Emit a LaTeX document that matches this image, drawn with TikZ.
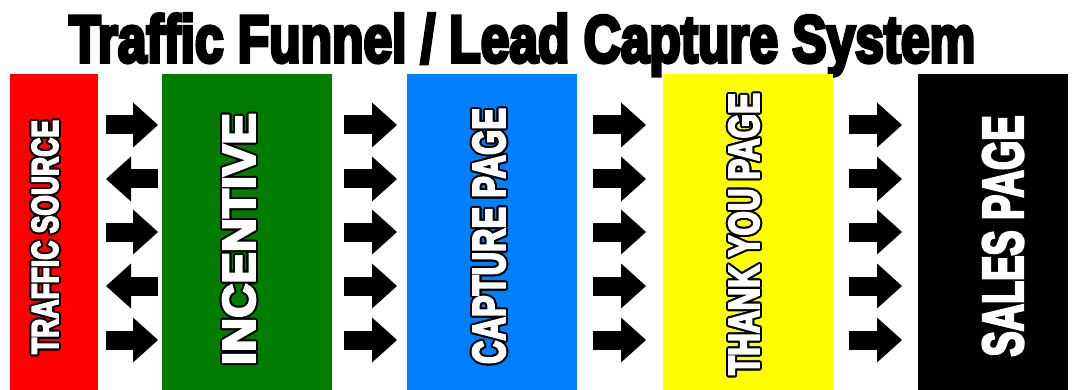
\documentclass[tikz,border=0pt]{standalone}
\usepackage{fontspec}
\usepackage[copies]{contour}
\usetikzlibrary{arrows.meta}
\newfontfamily\heavy{Liberation Sans}[BoldFeatures={FakeBold=5}]
\newfontfamily\heavytitle{Liberation Sans}[BoldFeatures={FakeBold=6}]
\definecolor{cred}{RGB}{255,0,0}
\definecolor{cgreen}{RGB}{0,125,0}
\definecolor{cblue}{RGB}{0,128,255}
\definecolor{cyellow}{RGB}{255,255,0}
\contourlength{2pt}
\newcommand{\lbltext}[3]{\contour{black}{\resizebox{#1}{#2}{\heavy\bfseries #3}}}
\tikzset{
  col/.style={draw=none, inner sep=0pt, minimum width=#1, minimum height=316pt, anchor=north west},
  lbl/.style={inner sep=0pt, text=white, rotate=90},
  bigarrow/.style={line width=19pt, line cap=butt, -{Triangle[width=45pt,length=25pt,line width=0pt]}}
}
\begin{document}
\begin{tikzpicture}[x=1pt,y=-1pt]
\useasboundingbox[fill=white] (0,0) rectangle (1078,390);
% title
\node[anchor=base west, inner sep=0pt] (title) at (69,62)
  {\resizebox{906pt}{48pt}{\heavytitle\bfseries Traffic Funnel / Lead Capture System}};
% columns
\node[col=88pt, fill=cred]    (src)  at (10,74)  {};
\node[col=170pt, fill=cgreen] (inc)  at (162,74) {};
\node[col=170pt, fill=cblue]  (cap)  at (407,74) {};
\node[col=170pt, fill=cyellow](thx)  at (663,74) {};
\node[col=150pt, fill=black]  (sal)  at (918,74) {};
% labels
\node[lbl] (srcl) at (46,237)  {\lbltext{234pt}{26pt}{TRAFFIC SOURCE}};
\node[lbl] (incl) at (240,239) {\lbltext{252pt}{32pt}{INCENTIVE}};
\node[lbl] (capl) at (490,236) {\lbltext{256pt}{32pt}{CAPTURE PAGE}};
\node[lbl] (thxl) at (745,234) {\lbltext{282pt}{30pt}{THANK YOU PAGE}};
\node[lbl] (sall) at (1004,236){\lbltext{241pt}{40pt}{SALES PAGE}};
% arrow anchor coordinates
\foreach \g/\xa/\xb in {1/106/158, 2/344/397, 3/593/646, 4/849/902}{
  \foreach \i/\yy in {1/125, 2/179, 3/232, 4/286, 5/340}{
    \coordinate (g\g l\i) at (\xa,\yy);
    \coordinate (g\g r\i) at (\xb,\yy);
  }
}
% arrows between traffic source and incentive
\draw[bigarrow] (g1l1) -- (g1r1);
\draw[bigarrow] (g1r2) -- (g1l2);
\draw[bigarrow] (g1l3) -- (g1r3);
\draw[bigarrow] (g1r4) -- (g1l4);
\draw[bigarrow] (g1l5) -- (g1r5);
% remaining arrows
\foreach \g in {2,3,4}{
  \foreach \i in {1,...,5}{
    \draw[bigarrow] (g\g l\i) -- (g\g r\i);
  }
}
\end{tikzpicture}
\end{document}
